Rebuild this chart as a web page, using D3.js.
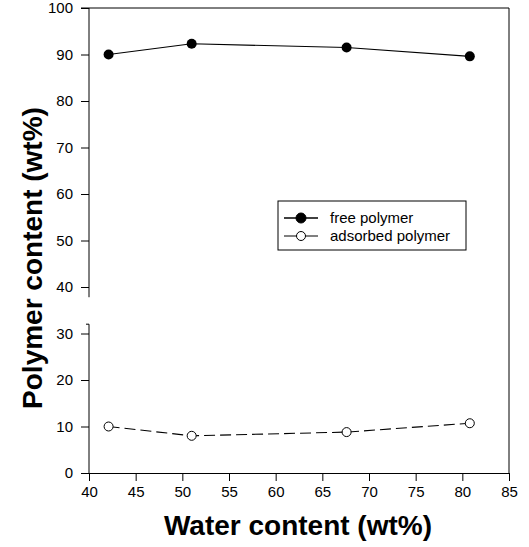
<!DOCTYPE html>
<html lang="en">
<head>
    <meta charset="UTF-8">
    <title>Polymer content vs water content</title>
    <script src="https://d3js.org/d3.v7.min.js"></script>
    <style>
        body { margin: 0; background: #fff; }
        text { font-family: "Liberation Sans", Arial, sans-serif; fill: #000; }
        .tick text { font-size: 15px; }
        .axis-title { font-weight: bold; font-size: 28px; }
        .legend text { font-size: 15px; }
    </style>
</head>
<body>
    <svg id="chart" width="529" height="547"></svg>

    <script>
        // data
        const waterContent = [42.1, 51.0, 67.6, 80.8];
        const freePolymer = [90.0, 92.3, 91.5, 89.6];
        const adsorbedPolymer = [10.0, 8.0, 8.8, 10.7];
        const xTicks = [40, 45, 50, 55, 60, 65, 70, 75, 80, 85];
        const yTicks = [0, 10, 20, 30, 40, 50, 60, 70, 80, 90, 100];

        const svg = d3.select("#chart"),
              margin = { top: 8, right: 20, bottom: 74, left: 89 },
              width = 529 - margin.left - margin.right,
              height = 547 - margin.top - margin.bottom;

        const x = d3.scaleLinear().domain([40, 85]).range([0, width]);
        const y = d3.scaleLinear().domain([0, 100]).range([height, 0]);

        const g = svg.append("g").attr("transform", `translate(${margin.left},${margin.top})`);

        // frame top + right
        g.append("path")
            .attr("d", `M${-8},0H${width}V${height}`)
            .attr("fill", "none").attr("stroke", "#000").attr("stroke-width", 1);

        // x axis
        const xAxis = g.append("g").attr("transform", `translate(0,${height})`)
            .call(d3.axisBottom(x).tickValues(xTicks).tickSize(8).tickSizeOuter(0).tickPadding(5));
        xAxis.select(".domain").attr("stroke-width", 1);

        // y axis with a break between 30 and 40
        const yAxis = g.append("g")
            .call(d3.axisLeft(y).tickValues(yTicks).tickSize(8).tickPadding(8));
        yAxis.select(".domain").remove();
        yAxis.append("line").attr("x1", 0).attr("x2", 0).attr("y1", y(100)).attr("y2", y(37.8)).attr("stroke", "#000");
        yAxis.append("line").attr("x1", 0).attr("x2", 0).attr("y1", y(32)).attr("y2", y(0)).attr("stroke", "#000");
        yAxis.append("path").attr("d", `M-3,${y(32)}H0`).attr("stroke", "#000");

        // lines
        const pts = vals => waterContent.map((w, i) => [w, vals[i]]);
        const line = d3.line().x(d => x(d[0])).y(d => y(d[1]));

        g.append("path").datum(pts(freePolymer))
            .attr("fill", "none").attr("stroke", "#000").attr("stroke-width", 1.1).attr("d", line);
        g.append("path").datum(pts(adsorbedPolymer))
            .attr("fill", "none").attr("stroke", "#000").attr("stroke-width", 1.1)
            .attr("stroke-dasharray", "11,5").attr("d", line);

        g.selectAll(".free").data(pts(freePolymer)).enter().append("circle")
            .attr("cx", d => x(d[0])).attr("cy", d => y(d[1])).attr("r", 5)
            .attr("fill", "#000");
        g.selectAll(".ads").data(pts(adsorbedPolymer)).enter().append("circle")
            .attr("cx", d => x(d[0])).attr("cy", d => y(d[1])).attr("r", 4.5)
            .attr("fill", "#fff").attr("stroke", "#000").attr("stroke-width", 1);

        // axis titles
        svg.append("text").attr("class", "axis-title")
            .attr("x", 298).attr("y", 535).attr("text-anchor", "middle")
            .text("Water content (wt%)");
        svg.append("text").attr("class", "axis-title")
            .attr("transform", "translate(42,258) rotate(-90)").attr("text-anchor", "middle")
            .text("Polymer content (wt%)");

        // legend
        const legend = svg.append("g").attr("class", "legend");
        legend.append("rect").attr("x", 278).attr("y", 201).attr("width", 188).attr("height", 49)
            .attr("fill", "#fff").attr("stroke", "#000").attr("stroke-width", 1);
        const legendItems = [
            { name: "free polymer", filled: true },
            { name: "adsorbed polymer", filled: false }
        ];
        legendItems.forEach((item, i) => {
            const ly = 218 + i * 18;
            legend.append("line").attr("x1", 284).attr("x2", 318).attr("y1", ly).attr("y2", ly)
                .attr("stroke", "#000").attr("stroke-width", item.filled ? 1.5 : 1);
            legend.append("circle").attr("cx", 301).attr("cy", ly).attr("r", item.filled ? 5 : 4.5)
                .attr("fill", item.filled ? "#000" : "#fff").attr("stroke", "#000");
            legend.append("text").attr("x", 330).attr("y", ly + 5).text(item.name);
        });
    </script>
</body>
</html>
